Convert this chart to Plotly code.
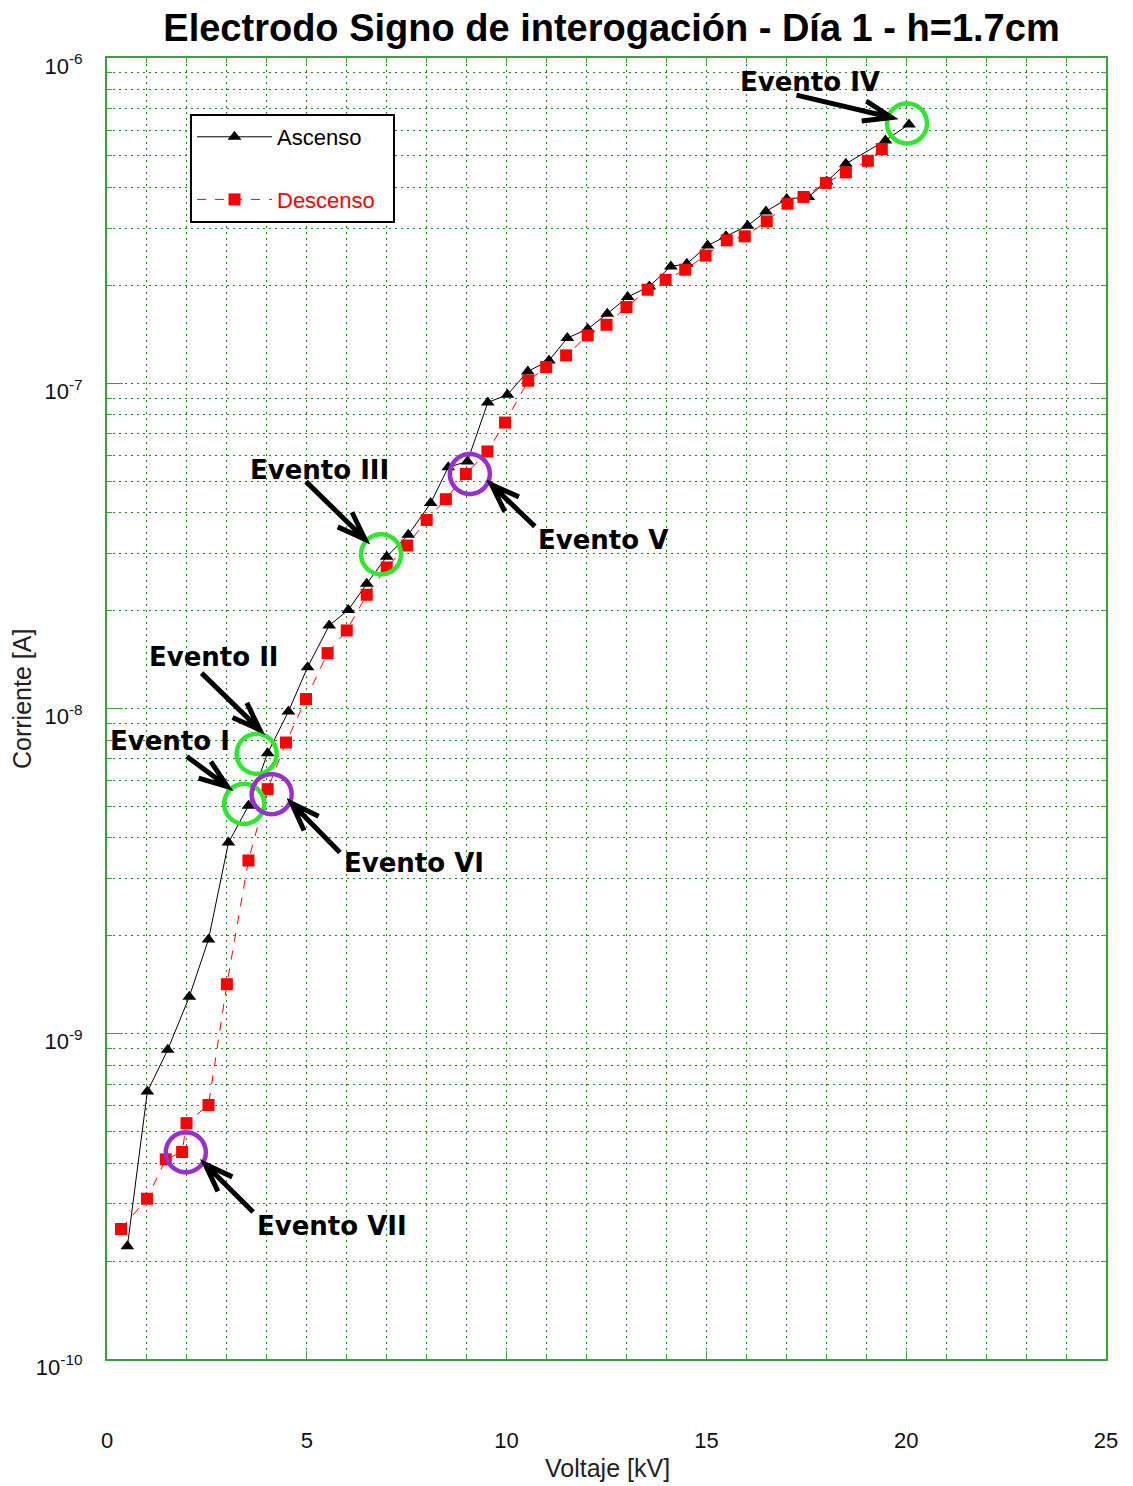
import numpy as np
import plotly.graph_objects as go

# ---------------- data ----------------
asc_v = [0.51, 1.01, 1.52, 2.06, 2.54, 3.04, 3.54, 4.02, 4.54, 5.02, 5.56, 6.04, 6.50, 7.00,
         7.54, 8.10, 8.54, 9.02, 9.53, 10.02, 10.53, 11.06, 11.52, 12.03, 12.52, 13.03, 13.57,
         14.11, 14.51, 15.03, 15.49, 16.03, 16.49, 17.01, 17.55, 18.01, 18.49, 19.48, 20.07]
asc_i = [2.22e-10, 6.64e-10, 8.93e-10, 1.30e-9, 1.95e-9, 3.87e-9, 5.02e-9, 7.29e-9, 9.79e-9,
         1.34e-8, 1.80e-8, 2.01e-8, 2.42e-8, 2.93e-8, 3.42e-8, 4.28e-8, 5.52e-8, 5.75e-8,
         8.73e-8, 9.22e-8, 1.087e-7, 1.175e-7, 1.377e-7, 1.468e-7, 1.636e-7, 1.841e-7, 1.985e-7,
         2.287e-7, 2.33e-7, 2.65e-7, 2.83e-7, 3.05e-7, 3.375e-7, 3.685e-7, 3.74e-7, 4.17e-7,
         4.73e-7, 5.58e-7, 6.25e-7]

desc_v = [19.39, 19.04, 18.49, 17.99, 17.43, 17.03, 16.51, 15.96, 15.51, 14.98, 14.47, 13.98,
          13.53, 13.00, 12.50, 12.03, 11.49, 10.99, 10.54, 9.96, 9.52, 8.98, 8.48, 8.00, 7.51,
          7.00, 6.50, 6.00, 5.52, 4.98, 4.48, 4.02, 3.54, 3.00, 2.54, 1.99, 1.88, 1.47, 1.00, 0.35]
desc_i = [5.25e-7, 4.83e-7, 4.45e-7, 4.13e-7, 3.74e-7, 3.565e-7, 3.145e-7, 2.83e-7, 2.75e-7,
          2.47e-7, 2.234e-7, 2.08e-7, 1.939e-7, 1.715e-7, 1.513e-7, 1.403e-7, 1.218e-7, 1.121e-7,
          1.018e-7, 7.57e-8, 6.17e-8, 5.26e-8, 4.40e-8, 3.80e-8, 3.17e-8, 2.714e-8, 2.237e-8,
          1.738e-8, 1.48e-8, 1.069e-8, 7.86e-9, 5.65e-9, 3.41e-9, 1.42e-9, 6.04e-10, 5.31e-10,
          4.33e-10, 4.11e-10, 3.11e-10, 2.51e-10]

x_tickvals = [0, 5, 10, 15, 20, 25]
y_tickvals = [1e-10, 1e-9, 1e-8, 1e-7, 1e-6]
y_ticktext = ["10<sup>-10</sup>", "10<sup>-9</sup>", "10<sup>-8</sup>", "10<sup>-7</sup>", "10<sup>-6</sup>"]
y_minor = [m * 10.0 ** e for e in range(-10, -6) for m in range(2, 10)]

# events: name, series, index into series, circle colour
event_names = ["Evento I", "Evento II", "Evento III", "Evento IV", "Evento V", "Evento VI", "Evento VII"]
event_series = ["asc", "asc", "asc", "asc", "desc", "desc", "desc"]
event_index = [6, 7, 13, 38, 21, 31, 36]
event_color = ["#2ee82e", "#2ee82e", "#2ee82e", "#2ee82e", "#9a2fd0", "#9a2fd0", "#9a2fd0"]

# ---------------- styling (pixel offsets, screen coords y down) ----------------
circle_off = {"Evento I": (-4.3, -2), "Evento II": (-11, 0.7), "Evento III": (-5.7, -2.4),
              "Evento IV": (-2, -1), "Evento V": (4, 0), "Evento VI": (4, 5), "Evento VII": (3.7, 0.3)}
arrow_off = {  # (tail, tip)
    "Evento I": ((-61.6, -49.3), (-21, -19.3)),
    "Evento II": ((-66, -80), (-7.7, -23.3)),
    "Evento III": ((-80.7, -75), (-21.7, -17.4)),
    "Evento IV": ((-112.5, -29.2), (-17.5, -6.9)),
    "Evento V": ((69, 52.4), (25.7, 10.7)),
    "Evento VI": ((72.3, 63.4), (24, 14)),
    "Evento VII": ((71, 60), (23, 12.3)),
}
label_off = {"Evento I": (-78.3, -65), "Evento II": (-53.2, -96.3), "Evento III": (-67.2, -86.7),
             "Evento IV": (-99.2, -42.2), "Evento V": (137, 65.7), "Evento VI": (146.3, 73.4),
             "Evento VII": (150, 74)}

GRID = "#1a851a"
BORDER = "#3f9f3f"
FONT = "Liberation Sans, Arial, sans-serif"
GRIDDASH = "2px,4px"

# page body has an 8px margin -> figure is 8px smaller
W, H = 1125, 1478
PL, PR, PT, PB = 99, 1098, 50, 1351  # plot area in figure pixels

fig = go.Figure()
fig.add_trace(go.Scatter(x=asc_v, y=asc_i, mode="lines+markers", name="Ascenso",
                         legendgroup="a",
                         line=dict(color="black", width=1),
                         marker=dict(symbol="triangle-up", size=12, color="black")))
fig.add_trace(go.Scatter(x=desc_v, y=desc_i, mode="lines+markers",
                         name="<span style='color:red'>Descenso</span>\u00a0\u00a0",
                         legendgroup="d",
                         line=dict(color="red", width=1, dash="dash"),
                         marker=dict(symbol="square", size=12, color="red")))


def arrow_path(tail, tip, head=30.0, half=np.radians(20)):
    tx, ty = tail
    hx, hy = tip
    ang = np.arctan2(ty - hy, tx - hx)
    b1 = (hx + head * np.cos(ang + half), hy + head * np.sin(ang + half))
    b2 = (hx + head * np.cos(ang - half), hy + head * np.sin(ang - half))
    f = lambda p: f"{p[0]:.1f},{-p[1]:.1f}"
    return f"M {f(tail)} L {f(tip)} M {f(b1)} L {f(tip)} L {f(b2)}"


def circle_path(c, r, n=60):
    t = np.linspace(0, 2 * np.pi, n, endpoint=False)
    pts = [f"{c[0] + r * np.cos(a):.2f},{-(c[1] + r * np.sin(a)):.2f}" for a in t]
    return "M " + " L ".join(pts) + " Z"


shapes = []
annotations = []
R = 20
for name, ser, idx, col in zip(event_names, event_series, event_index, event_color):
    xv = (asc_v if ser == "asc" else desc_v)[idx]
    yv = (asc_i if ser == "asc" else desc_i)[idx]
    shapes.append(dict(type="path", xref="x", yref="y", xsizemode="pixel", ysizemode="pixel",
                       xanchor=xv, yanchor=yv, path=circle_path(circle_off[name], R),
                       line=dict(color=col, width=4.5), layer="above"))
    tail, tip = arrow_off[name]
    shapes.append(dict(type="path", xref="x", yref="y", xsizemode="pixel", ysizemode="pixel",
                       xanchor=xv, yanchor=yv, path=arrow_path(tail, tip),
                       line=dict(color="black", width=5), layer="above"))
    lx, ly = label_off[name]
    annotations.append(dict(x=xv, y=np.log10(yv), xref="x", yref="y", text=f"<b>{name}</b>",
                            showarrow=False, xshift=lx, yshift=-ly, xanchor="center", yanchor="middle",
                            font=dict(family="DejaVu Sans", size=26, color="black")))

pw, ph = PR - PL, PB - PT
# axis titles
annotations.append(dict(x=(599 - PL) / pw, y=1 - (1460 - PT) / ph, xref="paper", yref="paper",
                        text="Voltaje [kV]", showarrow=False, xanchor="center", yanchor="middle",
                        font=dict(family=FONT, size=25, color="#222")))
annotations.append(dict(x=(14 - PL) / pw, y=1 - (691 - PT) / ph, xref="paper", yref="paper",
                        text="Corriente [A]", showarrow=False, xanchor="center", yanchor="middle",
                        textangle=-90, font=dict(family=FONT, size=25, color="#222")))

fig.update_layout(
    width=W, height=H,
    margin=dict(l=PL, r=W - PR, t=PT, b=H - PB),
    paper_bgcolor="white", plot_bgcolor="white",
    font=dict(family=FONT, size=22, color="black"),
    title=dict(text="<b>Electrodo Signo de interogación - Día 1 - h=1.7cm</b>",
               x=603.5 / W, xanchor="center", y=1 - 20 / H, yanchor="middle",
               font=dict(family=FONT, size=38, color="black")),
    legend=dict(x=(182 - PL) / pw, y=1 - (106 - PT) / ph, xanchor="left", yanchor="top",
                bgcolor="white", bordercolor="black", borderwidth=2,
                font=dict(family=FONT, size=22, color="black"),
                itemwidth=75, tracegroupgap=31),
    showlegend=True,
    shapes=shapes,
    annotations=annotations,
)

fig.update_xaxes(range=[0, 25], tickvals=x_tickvals, showgrid=True, gridcolor=GRID, griddash=GRIDDASH,
                 gridwidth=1, zeroline=False,
                 minor=dict(dtick=1, showgrid=True, gridcolor=GRID, griddash=GRIDDASH, gridwidth=1,
                            ticks="inside", ticklen=5, tickcolor=BORDER),
                 ticks="inside", ticklen=8, tickcolor=BORDER,
                 showline=True, linecolor=BORDER, linewidth=2, mirror="allticks",
                 ticklabelstandoff=61, tickfont=dict(size=22, color="#111"))
fig.update_yaxes(type="log", range=[-10, -6], tickvals=y_tickvals, ticktext=y_ticktext,
                 showgrid=True, gridcolor=GRID, griddash=GRIDDASH, gridwidth=1, zeroline=False,
                 minor=dict(tickvals=y_minor, showgrid=True, gridcolor=GRID, griddash=GRIDDASH, gridwidth=1,
                            ticks="inside", ticklen=5, tickcolor=BORDER),
                 ticks="inside", ticklen=16, tickcolor=BORDER,
                 showline=True, linecolor=BORDER, linewidth=2, mirror="allticks",
                 ticklabelstandoff=18, ticklabelshift=8, tickfont=dict(size=22, color="#111"))

fig.write_html("out.html")
